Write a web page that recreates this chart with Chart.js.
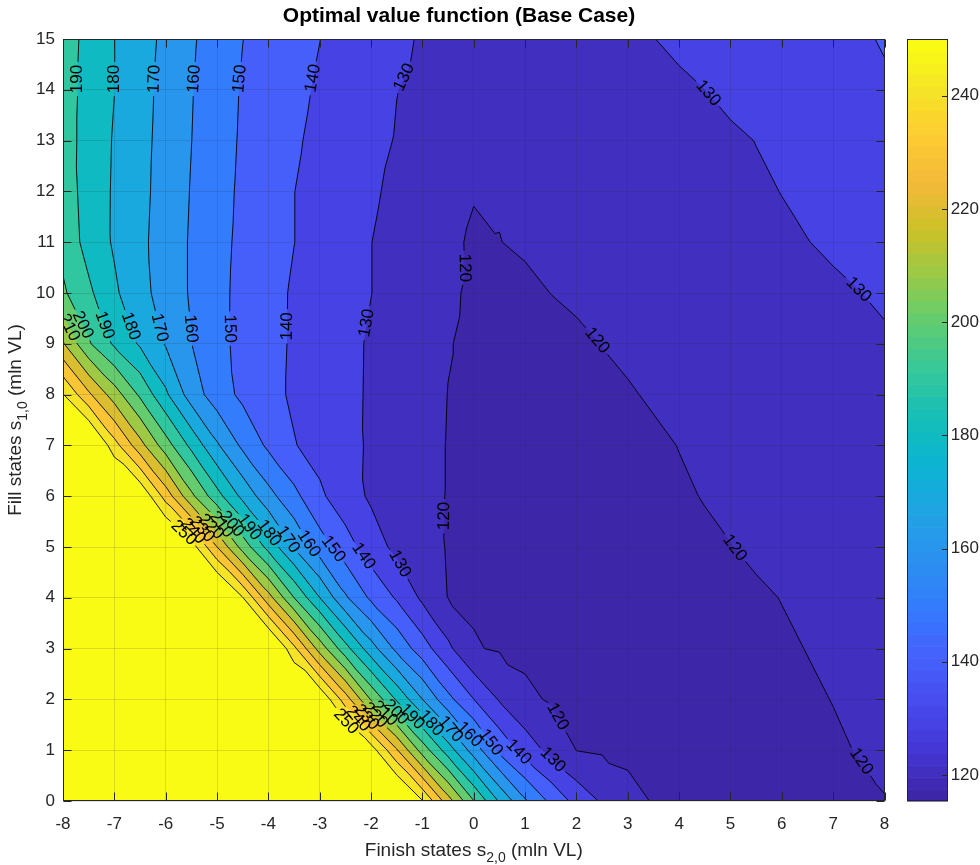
<!DOCTYPE html>
<html>
<head>
<meta charset="utf-8">
<title>Optimal value function (Base Case)</title>
<script src="https://cdn.jsdelivr.net/npm/chart.js@4.4.0/dist/chart.umd.min.js"></script>
<style>
  body { margin: 0; background: #ffffff; }
  canvas { display: block; }
</style>
</head>
<body>
<canvas id="myChart" width="980" height="865"></canvas>
<script>
// grid of the value function: finish states (x) and fill states (y), mln VL
const finishStates = [-8, -7.5, -7, -6.5, -6, -5.5, -5, -4.5, -4, -3.5, -3, -2.5, -2, -1.5, -1, -0.5,
    0, 0.5, 1, 1.5, 2, 2.5, 3, 3.5, 4, 4.5, 5, 5.5, 6, 6.5, 7, 7.5, 8];
const fillStates = [0, 1, 2, 3, 4, 5, 6, 7, 8, 9, 10, 11, 12, 13, 14, 15];
const contourLevels = [120, 130, 140, 150, 160, 170, 180, 190, 200, 210, 220, 230, 240, 250];
const colorbarTicks = [120, 140, 160, 180, 200, 220, 240];
const colorLimits = [115.4, 250];

// optimal value, one row per fill state
const valueFill0 = [270, 270, 270, 270, 270, 270, 270, 270, 270, 270, 270, 270, 270, 270, 250.5, 224.4,
    200.4, 178.8, 161.3, 147.9, 136.7, 128.8, 122.6, 119.5, 118.6, 117.7, 116.8, 115.9, 115.8, 116.8, 117.9, 118.9, 119.9];
const valueFill1 = [270, 270, 270, 270, 270, 270, 270, 270, 270, 270, 270, 270, 255, 231.0, 205.7, 185.0,
    165.5, 147.9, 136.0, 126.9, 119.9, 119.1, 118.3, 117.5, 116.7, 115.9, 115.8, 116.7, 117.6, 118.5, 119.4, 120.2, 120.6];
const valueFill2 = [270, 270, 270, 270, 270, 270, 270, 270, 270, 270, 260, 235, 209.2, 188.8, 170.1, 152.9,
    140.1, 129.2, 121.5, 119.3, 118.5, 117.7, 116.8, 116.0, 115.8, 116.5, 117.2, 117.9, 118.7, 119.4, 120.1, 120.5, 121.0];
const valueFill3 = [270, 270, 270, 270, 270, 270, 270, 270, 267.5, 242.5, 216, 193.7, 174.2, 157.5, 144.6, 132.1,
    120.5, 119.3, 118.5, 117.8, 117.0, 116.3, 115.5, 116.1, 116.8, 117.4, 118.1, 118.7, 119.4, 120.1, 120.7, 121.3, 122.0];
const valueFill4 = [270, 270, 270, 270, 270, 270, 270, 250.5, 224.1, 200.1, 180.1, 161.4, 148.2, 138.9, 128.2, 119.9,
    119.2, 118.5, 117.7, 117.0, 116.2, 115.5, 116.1, 116.8, 117.4, 118.1, 118.7, 119.4, 120.1, 120.8, 121.5, 122.3, 123.0];
const valueFill5 = [270, 270, 270, 270, 270, 255, 230.1, 206, 186.7, 169.3, 154.9, 144.4, 134.7, 127.5, 122.7, 119.6,
    118.8, 118.0, 117.2, 116.4, 115.6, 116.3, 117.0, 117.8, 118.5, 119.2, 119.9, 120.7, 121.4, 122.2, 123.0, 123.7, 124.5];
const valueFill6 = [270, 270, 270, 260, 236, 212.4, 193.6, 177.4, 163.4, 152.8, 141.8, 134.2, 128.7, 125.3, 122.0, 119.7,
    118.8, 117.9, 117.1, 116.2, 116.0, 116.9, 117.7, 118.5, 119.4, 120.2, 121.0, 121.9, 122.7, 123.5, 124.3, 125.2, 126.0];
const valueFill7 = [270, 267.5, 244.0, 223.7, 204.6, 187.4, 171.3, 157.9, 148.2, 140.5, 136.4, 132.6, 128.9, 125.7, 122.4, 119.7,
    118.8, 117.9, 116.9, 116.0, 116.5, 117.4, 118.3, 119.2, 120.1, 120.9, 121.8, 122.7, 123.5, 124.4, 125.3, 126.1, 127.0];
const valueFill8 = [250.5, 231.9, 215.0, 198.3, 181.7, 165.3, 154.7, 147.9, 142.9, 138.6, 135.4, 132.2, 129.0, 125.9, 122.8, 119.9,
    118.8, 117.7, 116.6, 116.4, 117.5, 118.5, 119.6, 120.5, 121.3, 122.2, 123.0, 123.8, 124.7, 125.5, 126.3, 127.2, 128.0];
const valueFill9 = [221, 201.2, 188.5, 178.8, 169.3, 160.2, 152.8, 147.3, 142.9, 138.9, 135.6, 132.3, 129.1, 126.2, 123.2, 120.3,
    118.8, 117.5, 116.7, 117.8, 119.0, 120.1, 120.9, 121.8, 122.6, 123.5, 124.3, 125.2, 126.0, 126.9, 127.6, 128.5, 129.3];
const valueFill10 = [201.5, 191.9, 181.6, 173.2, 165.8, 159.0, 152.6, 147.4, 143.0, 139.0, 136.1, 133.1, 130.1, 127.1, 124.0, 121.0,
    119.0, 117.6, 118.7, 120.05, 120.9, 121.7, 122.5, 123.3, 124.1, 125.0, 125.8, 126.6, 127.4, 128.2, 129.1, 129.9, 130.8];
const valueFill11 = [197, 186.3, 178.9, 172.2, 165.5, 159.0, 152.9, 147.9, 144.0, 140.1, 136.7, 133.4, 130.1, 127.4, 124.6, 121.9,
    118.8, 119.9, 120.8, 121.6, 122.4, 123.3, 124.1, 124.9, 125.7, 126.6, 127.4, 128.2, 129.1, 129.9, 130.8, 131.6, 132.5];
const valueFill12 = [196, 185.4, 179.0, 172.7, 166.1, 159.5, 153.5, 148.3, 144.2, 140.1, 137.1, 134.1, 131.1, 128.3, 125.7, 123.1,
    120.5, 120.4, 121.3, 122.2, 123.0, 123.9, 124.8, 125.7, 126.6, 127.5, 128.4, 129.2, 130.1, 131.1, 132.1, 133.0, 134.0];
const valueFill13 = [195, 185.7, 179.3, 173.0, 166.6, 160.1, 154.1, 148.8, 145.0, 141.1, 137.9, 135.0, 132.0, 129.6, 128.2, 126.8,
    125.4, 124.0, 122.6, 122.6, 123.5, 124.4, 125.4, 126.3, 127.2, 128.2, 129.1, 130.1, 131.3, 132.4, 133.6, 134.8, 136.0];
const valueFill14 = [195, 186.3, 180.1, 173.5, 167.0, 160.5, 154.6, 149.2, 145.7, 142.2, 138.9, 136.0, 133.0, 130.1, 128.6, 127.2,
    125.8, 124.4, 123.0, 124.0, 125.0, 126.0, 127.0, 128.0, 129.0, 129.98, 131.3, 132.6, 134.0, 135.3, 136.6, 138.0, 139.3];
const valueFill15 = [195, 186.9, 180.1, 174.0, 167.8, 161.2, 155.5, 150.1, 146.7, 143.3, 140.1, 137.2, 134.3, 131.5, 129.3, 127.8,
    126.4, 124.9, 124.4, 125.5, 126.6, 127.7, 128.8, 129.9, 131.1, 132.2, 133.4, 134.6, 135.7, 136.9, 138.1, 139.3, 140.4];
const valueGrid = [valueFill0, valueFill1, valueFill2, valueFill3, valueFill4, valueFill5, valueFill6, valueFill7,
    valueFill8, valueFill9, valueFill10, valueFill11, valueFill12, valueFill13, valueFill14, valueFill15];

// parula colormap (anchor rows of the 256 table)
const parulaRows = [0, 16, 32, 48, 64, 80, 96, 112, 128, 144, 160, 176, 192, 208, 224, 240, 255];
const parulaRgb = [
    [0.2422, 0.1504, 0.6603], [0.2704, 0.2138, 0.8346], [0.2813, 0.2985, 0.9397], [0.2710, 0.3860, 0.9898],
    [0.2006, 0.4803, 0.9906], [0.1716, 0.5655, 0.9393], [0.1288, 0.6408, 0.8910], [0.0433, 0.7039, 0.8242],
    [0.0770, 0.7468, 0.7224], [0.2061, 0.7808, 0.6065], [0.3671, 0.8021, 0.4563], [0.5886, 0.7913, 0.2833],
    [0.7945, 0.7554, 0.1570], [0.9523, 0.7284, 0.2237], [0.9938, 0.7974, 0.1974], [0.9601, 0.8963, 0.1507],
    [0.9769, 0.9839, 0.0805]
];

const FONT = "'Liberation Sans', Arial, Helvetica, sans-serif";
const AXIS_GREY = '#262626';
const LABEL_SPACING = 250;   // px between two labels on one line
const LABEL_LEAD = 40;       // px from the start of a line to its first label
const N_COLORS = 64;

function parula(t) {
    const p = Math.max(0, Math.min(1, t)) * 255;
    let k = 1;
    while (k < parulaRows.length - 1 && parulaRows[k] < p) k++;
    const f = (p - parulaRows[k - 1]) / (parulaRows[k] - parulaRows[k - 1]);
    const c = parulaRgb[k - 1].map((a, n) => Math.round(255 * (a + f * (parulaRgb[k][n] - a))));
    return `rgb(${c[0]},${c[1]},${c[2]})`;
}

function colorOfValue(v) {
    const m = Math.floor((v - colorLimits[0]) / (colorLimits[1] - colorLimits[0]) * N_COLORS);
    return parula(Math.max(0, Math.min(N_COLORS - 1, m)) / (N_COLORS - 1));
}

function buildTriangles() {
    const nx = finishStates.length;
    const node = (i, j) => {
        let v = valueGrid[j][i];
        if (contourLevels.includes(v)) v += 1e-6;
        return { x: finishStates[i], y: fillStates[j], v: v, id: j * nx + i };
    };
    const tris = [];
    for (let j = 0; j < fillStates.length - 1; j++) {
        for (let i = 0; i < nx - 1; i++) {
            const bl = node(i, j), br = node(i + 1, j), tl = node(i, j + 1), tr = node(i + 1, j + 1);
            tris.push([bl, br, tl], [tl, br, tr]);
        }
    }
    return tris;
}

function clipAbove(poly, level) {
    const out = [];
    for (let k = 0; k < poly.length; k++) {
        const a = poly[k], b = poly[(k + 1) % poly.length];
        const ain = a.v >= level, bin = b.v >= level;
        if (ain) out.push(a);
        if (ain !== bin) {
            const t = (level - a.v) / (b.v - a.v);
            out.push({ x: a.x + t * (b.x - a.x), y: a.y + t * (b.y - a.y), v: level });
        }
    }
    return out;
}

function contourLines(tris, level) {
    const pts = new Map(), adj = new Map();
    const key = (a, b) => a.id < b.id ? a.id + '_' + b.id : b.id + '_' + a.id;
    const link = (k1, k2) => {
        if (!adj.has(k1)) adj.set(k1, []);
        adj.get(k1).push(k2);
    };
    for (const t of tris) {
        const cross = [];
        for (let k = 0; k < 3; k++) {
            const a = t[k], b = t[(k + 1) % 3];
            if ((a.v - level) * (b.v - level) < 0) {
                const kk = key(a, b);
                if (!pts.has(kk)) {
                    const s = (level - a.v) / (b.v - a.v);
                    pts.set(kk, { x: a.x + s * (b.x - a.x), y: a.y + s * (b.y - a.y) });
                }
                cross.push(kk);
            }
        }
        if (cross.length === 2) { link(cross[0], cross[1]); link(cross[1], cross[0]); }
    }
    const used = new Set();
    const walk = (start) => {
        const line = [start];
        used.add(start);
        let cur = start;
        while (true) {
            const nb = (adj.get(cur) || []).find(n => !used.has(n));
            if (!nb) break;
            line.push(nb); used.add(nb); cur = nb;
        }
        return line;
    };
    const lines = [];
    for (const [k, nbs] of adj) if (nbs.length === 1 && !used.has(k)) lines.push(walk(k).map(q => pts.get(q)));
    for (const k of adj.keys()) if (!used.has(k)) {
        const l = walk(k).map(q => pts.get(q));
        l.push(l[0]);
        lines.push(l);
    }
    return lines;
}

// which side of the plot a line end touches: right 4, top 3, left 2, otherwise 1
function edgeRank(p) {
    const eps = 1e-9;
    if (Math.abs(p.x - finishStates[finishStates.length - 1]) < eps) return 4;
    if (Math.abs(p.y - fillStates[fillStates.length - 1]) < eps) return 3;
    if (Math.abs(p.x - finishStates[0]) < eps) return 2;
    return 1;
}

function drawLabelledLine(ctx, pts, text, lead) {
    const cum = [0];
    for (let k = 1; k < pts.length; k++) {
        cum.push(cum[k - 1] + Math.hypot(pts[k].x - pts[k - 1].x, pts[k].y - pts[k - 1].y));
    }
    const total = cum[cum.length - 1];
    const at = (s) => {
        s = Math.max(0, Math.min(total, s));
        let k = 1;
        while (k < cum.length - 1 && cum[k] < s) k++;
        const seg = (cum[k] - cum[k - 1]) || 1;
        const t = (s - cum[k - 1]) / seg;
        return { x: pts[k - 1].x + t * (pts[k].x - pts[k - 1].x), y: pts[k - 1].y + t * (pts[k].y - pts[k - 1].y) };
    };
    const w = ctx.measureText(text).width;
    const spots = [];
    if (total > w + 14) {
        let s = (((LABEL_LEAD - lead) % LABEL_SPACING) + LABEL_SPACING) % LABEL_SPACING;
        for (; s <= total - w / 2 - 2; s += LABEL_SPACING) spots.push(s);
        if (!spots.length) spots.push(total / 2);
    }
    let intervals = [[0, total]];
    spots.forEach(s => {
        const g0 = s - w / 2 - 3, g1 = s + w / 2 + 3;
        intervals = intervals.flatMap(([a, b]) => {
            if (g1 <= a || g0 >= b) return [[a, b]];
            const out = [];
            if (g0 > a) out.push([a, g0]);
            if (g1 < b) out.push([g1, b]);
            return out;
        });
    });
    ctx.beginPath();
    intervals.forEach(([a, b]) => {
        const p0 = at(a);
        ctx.moveTo(p0.x, p0.y);
        for (let k = 1; k < pts.length; k++) if (cum[k] > a && cum[k] < b) ctx.lineTo(pts[k].x, pts[k].y);
        const p1 = at(b);
        ctx.lineTo(p1.x, p1.y);
    });
    ctx.stroke();
    spots.forEach(s => {
        const p = at(s), q0 = at(s - 8), q1 = at(s + 8);
        let ang = Math.atan2(q1.y - q0.y, q1.x - q0.x);
        if (ang >= Math.PI / 2) ang -= Math.PI;
        if (ang < -Math.PI / 2) ang += Math.PI;
        ctx.save();
        ctx.translate(p.x, p.y);
        ctx.rotate(ang);
        ctx.fillText(text, 0, 0);
        ctx.restore();
    });
}

// text with a subscript part, centred on (x, y) baseline
function drawRichText(ctx, parts, x, y, size, weight) {
    const fontOf = (p) => `${weight || ''} ${p.sub ? Math.round(size * 0.72) : size}px ${FONT}`;
    let width = 0;
    parts.forEach(p => { ctx.font = fontOf(p); width += ctx.measureText(p.t).width; });
    let cx = x - width / 2;
    ctx.textAlign = 'left';
    ctx.textBaseline = 'alphabetic';
    parts.forEach(p => {
        ctx.font = fontOf(p);
        ctx.fillText(p.t, cx, y + (p.sub ? size * 0.3 : 0));
        cx += ctx.measureText(p.t).width;
    });
}

const contourPlugin = {
    id: 'contourf',
    beforeDatasetsDraw(chart) {
        const { ctx, chartArea: a, scales: { x, y } } = chart;
        const px = v => x.getPixelForValue(v), py = v => y.getPixelForValue(v);
        const tris = buildTriangles();
        ctx.save();
        ctx.beginPath();
        ctx.rect(a.left, a.top, a.right - a.left, a.bottom - a.top);
        ctx.clip();
        ctx.fillStyle = colorOfValue(colorLimits[0]);
        ctx.fillRect(a.left, a.top, a.right - a.left, a.bottom - a.top);
        contourLevels.forEach(level => {
            ctx.beginPath();
            tris.forEach(t => {
                const poly = clipAbove(t, level);
                if (poly.length < 3) return;
                ctx.moveTo(px(poly[0].x), py(poly[0].y));
                for (let k = 1; k < poly.length; k++) ctx.lineTo(px(poly[k].x), py(poly[k].y));
                ctx.closePath();
            });
            ctx.fillStyle = colorOfValue(level);
            ctx.fill();
        });
        ctx.strokeStyle = '#000000';
        ctx.lineWidth = 0.9;
        ctx.fillStyle = '#000000';
        ctx.font = `17px ${FONT}`;
        ctx.textAlign = 'center';
        ctx.textBaseline = 'middle';
        const yTop = fillStates[fillStates.length - 1];
        contourLevels.forEach(level => {
            contourLines(tris, level).forEach(line => {
                if (edgeRank(line[line.length - 1]) > edgeRank(line[0])) line.reverse();
                // a line leaving the left side is measured as if it ran on up to the top-left corner
                const lead = edgeRank(line[0]) === 2 ? py(line[0].y) - py(yTop) : 0;
                drawLabelledLine(ctx, line.map(p => ({ x: px(p.x), y: py(p.y) })), String(level), lead);
            });
        });
        ctx.restore();
    },
    afterDraw(chart) {
        const { ctx, chartArea: a, scales: { x, y, cb } } = chart;
        const L = Math.round(a.left) + 0.5, R = Math.round(a.right) - 0.5;
        const T = Math.round(a.top) + 0.5, B = Math.round(a.bottom) - 0.5;
        ctx.save();
        ctx.strokeStyle = AXIS_GREY;
        ctx.lineWidth = 1;
        ctx.strokeRect(L, T, R - L, B - T);
        const tickLen = 8;
        ctx.beginPath();
        x.ticks.forEach(t => {
            const X = Math.round(x.getPixelForValue(t.value)) + 0.5;
            ctx.moveTo(X, B); ctx.lineTo(X, B - tickLen);
            ctx.moveTo(X, T); ctx.lineTo(X, T + tickLen);
        });
        y.ticks.forEach(t => {
            const Y = Math.round(y.getPixelForValue(t.value)) + 0.5;
            ctx.moveTo(L, Y); ctx.lineTo(L + tickLen, Y);
            ctx.moveTo(R, Y); ctx.lineTo(R - tickLen, Y);
        });
        ctx.stroke();

        // colorbar
        const cbLeft = Math.round(a.right) + 22, cbWidth = 41;
        const cTop = cb.getPixelForValue(colorLimits[1]), cBottom = cb.getPixelForValue(colorLimits[0]);
        const h = (cBottom - cTop) / N_COLORS;
        for (let m = 0; m < N_COLORS; m++) {
            ctx.fillStyle = parula(m / (N_COLORS - 1));
            ctx.fillRect(cbLeft, cBottom - (m + 1) * h, cbWidth, h + 0.6);
        }
        ctx.strokeRect(cbLeft + 0.5, Math.round(cTop) + 0.5, cbWidth - 1, Math.round(cBottom - cTop) - 1);
        ctx.beginPath();
        colorbarTicks.forEach(v => {
            const Y = Math.round(cb.getPixelForValue(v)) + 0.5;
            ctx.moveTo(cbLeft + cbWidth - 0.5, Y); ctx.lineTo(cbLeft + cbWidth - 6, Y);
        });
        ctx.stroke();

        // titles
        ctx.fillStyle = '#000000';
        drawRichText(ctx, [{ t: 'Optimal value function (Base Case)' }], 459, 22, 21, 'bold');
        ctx.fillStyle = AXIS_GREY;
        drawRichText(ctx, [{ t: 'Finish states s' }, { t: '2,0', sub: true }, { t: ' (mln VL)' }],
            (a.left + a.right) / 2, 856, 19);
        ctx.save();
        ctx.translate(21, (a.top + a.bottom) / 2);
        ctx.rotate(-Math.PI / 2);
        drawRichText(ctx, [{ t: 'Fill states s' }, { t: '1,0', sub: true }, { t: ' (mln VL)' }], 0, 0, 19);
        ctx.restore();
        ctx.restore();
    }
};

const tickFont = { family: FONT, size: 17 };
const gridStyle = { color: 'rgba(38,38,38,0.15)', lineWidth: 1, z: 1, drawTicks: false };

new Chart(document.getElementById('myChart'), {
    type: 'scatter',
    data: { datasets: [] },
    plugins: [contourPlugin],
    options: {
        responsive: false,
        animation: false,
        events: [],
        layout: { padding: { top: 39, left: 0, right: 1, bottom: 0 } },
        plugins: { legend: { display: false }, tooltip: { enabled: false }, title: { display: false } },
        scales: {
            x: {
                type: 'linear', min: -8, max: 8,
                ticks: { stepSize: 1, autoSkip: false, maxRotation: 0, padding: 13, font: tickFont, color: AXIS_GREY },
                grid: gridStyle,
                border: { display: false },
                afterFit(scale) { scale.height = 64; }
            },
            y: {
                type: 'linear', min: 0, max: 15,
                ticks: { stepSize: 1, autoSkip: false, padding: 8, font: tickFont, color: AXIS_GREY },
                grid: gridStyle,
                border: { display: false },
                afterFit(scale) { scale.width = 63; }
            },
            cb: {
                type: 'linear', axis: 'y', position: 'right',
                min: colorLimits[0], max: colorLimits[1],
                ticks: { padding: 2, crossAlign: 'far', font: tickFont, color: AXIS_GREY },
                grid: { display: false, drawTicks: false },
                border: { display: false },
                afterBuildTicks(scale) { scale.ticks = colorbarTicks.map(v => ({ value: v })); },
                afterFit(scale) { scale.width = 94.5; }
            }
        }
    }
});
</script>
</body>
</html>
